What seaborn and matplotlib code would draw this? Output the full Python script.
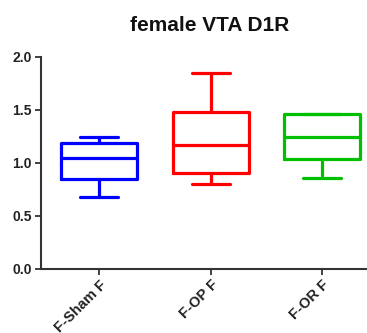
import matplotlib
matplotlib.use("Agg")
import matplotlib.pyplot as plt
import seaborn as sns
import pandas as pd

# Five-number summaries per group: min, Q1, median, Q3, max
groups = ["F-Sham F", "F-OP F", "F-OR F"]
sham_f = [0.68, 0.85, 1.05, 1.19, 1.245]
op_f = [0.80, 0.90, 1.17, 1.48, 1.845]
or_f = [0.86, 1.04, 1.24, 1.46, 1.46]
colors = ["#0000ff", "#ff0000", "#00c000"]
y_ticks = [0.0, 0.5, 1.0, 1.5, 2.0]

sns.set_style("ticks")
plt.rcParams["font.family"] = ["Liberation Sans", "DejaVu Sans"]

df = pd.DataFrame({
    "group": [g for g, vals in zip(groups, [sham_f, op_f, or_f]) for _ in vals],
    "value": sham_f + op_f + or_f,
})

fig = plt.figure(figsize=(3.67, 3.33), dpi=100)
ax = fig.add_axes([0.112, 0.193, 0.888, 0.636])

sns.boxplot(
    data=df, x="group", y="value", hue="group", order=groups,
    palette=colors, fill=False, whis=(0, 100), width=0.68,
    linewidth=2.3, legend=False, ax=ax,
)

ax.set_ylim(0, 2.0)
ax.set_xlim(-0.52, 2.40)
ax.set_yticks(y_ticks)
ax.set_yticklabels([f"{t:.1f}" for t in y_ticks], fontsize=10, fontweight="bold", color="#222222")
ax.set_xticks(range(len(groups)))
ax.set_xticklabels(groups, rotation=45, ha="right", rotation_mode="anchor",
                   fontsize=10.5, fontweight="bold", color="#222222")
ax.set_xlabel("")
ax.set_ylabel("")
ax.tick_params(axis="both", length=4, width=1.3, color="#333333", pad=2.5)
for side in ["left", "bottom"]:
    ax.spines[side].set_linewidth(1.5)
    ax.spines[side].set_color("#333333")
sns.despine(ax=ax)

fig.text(0.571, 0.922, "female VTA D1R", ha="center", va="center",
         fontsize=15, fontweight="bold", color="#111111")

fig.savefig("out.png", dpi=100)
